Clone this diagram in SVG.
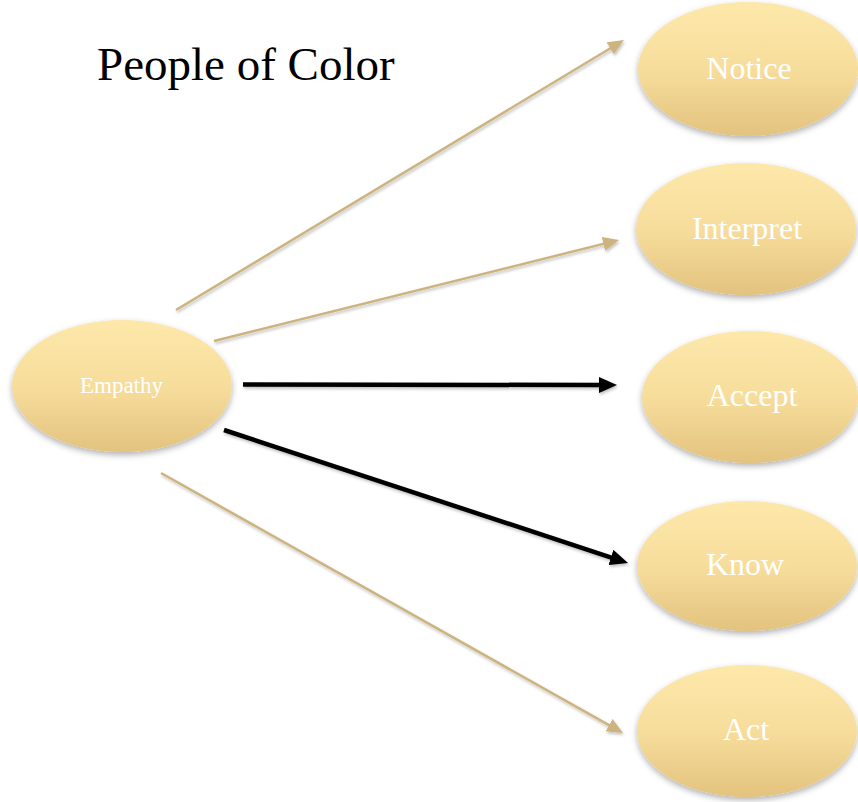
<svg xmlns="http://www.w3.org/2000/svg" width="858" height="802" viewBox="0 0 858 802">
  <defs>
    <linearGradient id="gold" x1="0" y1="0" x2="0" y2="1">
      <stop offset="0" stop-color="#FDE8AA"/>
      <stop offset="0.5" stop-color="#F7DD9C"/>
      <stop offset="1" stop-color="#E3C37E"/>
    </linearGradient>
    <filter id="shadow" x="-20%" y="-20%" width="140%" height="150%">
      <feDropShadow dx="0" dy="3" stdDeviation="3" flood-color="#000" flood-opacity="0.3"/>
    </filter>
    <!-- user-space region so perfectly horizontal lines still render -->
    <filter id="lineShadow" filterUnits="userSpaceOnUse" x="0" y="0" width="858" height="802">
      <feDropShadow dx="1" dy="2" stdDeviation="1.5" flood-color="#000" flood-opacity="0.25"/>
    </filter>
    <marker id="tanHead" markerUnits="userSpaceOnUse" markerWidth="16" markerHeight="14" refX="6" refY="7" orient="auto">
      <path d="M0,0 L16,7 L0,14 z" fill="#CDB47E"/>
    </marker>
    <marker id="blackHead" markerUnits="userSpaceOnUse" markerWidth="18" markerHeight="16" refX="6" refY="8" orient="auto">
      <path d="M0,0 L18,8 L0,16 z" fill="#000"/>
    </marker>
  </defs>
  <style>
    .node { fill: url(#gold); filter: url(#shadow); }
    .label { font-family: "Liberation Serif", "Times New Roman", serif; fill: #FFFFFF; text-anchor: middle; font-size: 32px; }
    .tan { stroke: #CDB47E; stroke-width: 2.5; fill: none; marker-end: url(#tanHead); filter: url(#lineShadow); }
    .dark { stroke: #000; stroke-width: 4.5; fill: none; marker-end: url(#blackHead); filter: url(#lineShadow); }
    .title { font-family: "Liberation Serif", "Times New Roman", serif; font-size: 47px; fill: #000; }
  </style>

  <rect width="858" height="802" fill="#FFFFFF"/>

  <text class="title" x="97" y="80">People of Color</text>

  <g id="connectors">
    <line class="tan" x1="176" y1="310" x2="615.4" y2="45.2"/>
    <line class="tan" x1="214" y1="341" x2="609.3" y2="242.4"/>
    <line class="dark" x1="243" y1="384.5" x2="605" y2="385"/>
    <line class="dark" x1="224" y1="430" x2="616.6" y2="559.3"/>
    <line class="tan" x1="161" y1="473" x2="614.3" y2="728.1"/>
  </g>

  <g id="empathy">
    <ellipse class="node" cx="122" cy="386" rx="110" ry="66"/>
    <text class="label" x="121.5" y="393" style="font-size:23px">Empathy</text>
  </g>

  <g id="notice">
    <ellipse class="node" cx="748" cy="69" rx="110" ry="67"/>
    <text class="label" x="749" y="79">Notice</text>
  </g>

  <g id="interpret">
    <ellipse class="node" cx="746" cy="229" rx="110" ry="66"/>
    <text class="label" x="747" y="239">Interpret</text>
  </g>

  <g id="accept">
    <ellipse class="node" cx="750" cy="397" rx="108" ry="66"/>
    <text class="label" x="752" y="406">Accept</text>
  </g>

  <g id="know">
    <ellipse class="node" cx="747" cy="566" rx="110" ry="65"/>
    <text class="label" x="745" y="575">Know</text>
  </g>

  <g id="act">
    <ellipse class="node" cx="747" cy="731" rx="110" ry="66"/>
    <text class="label" x="746" y="740">Act</text>
  </g>
</svg>
